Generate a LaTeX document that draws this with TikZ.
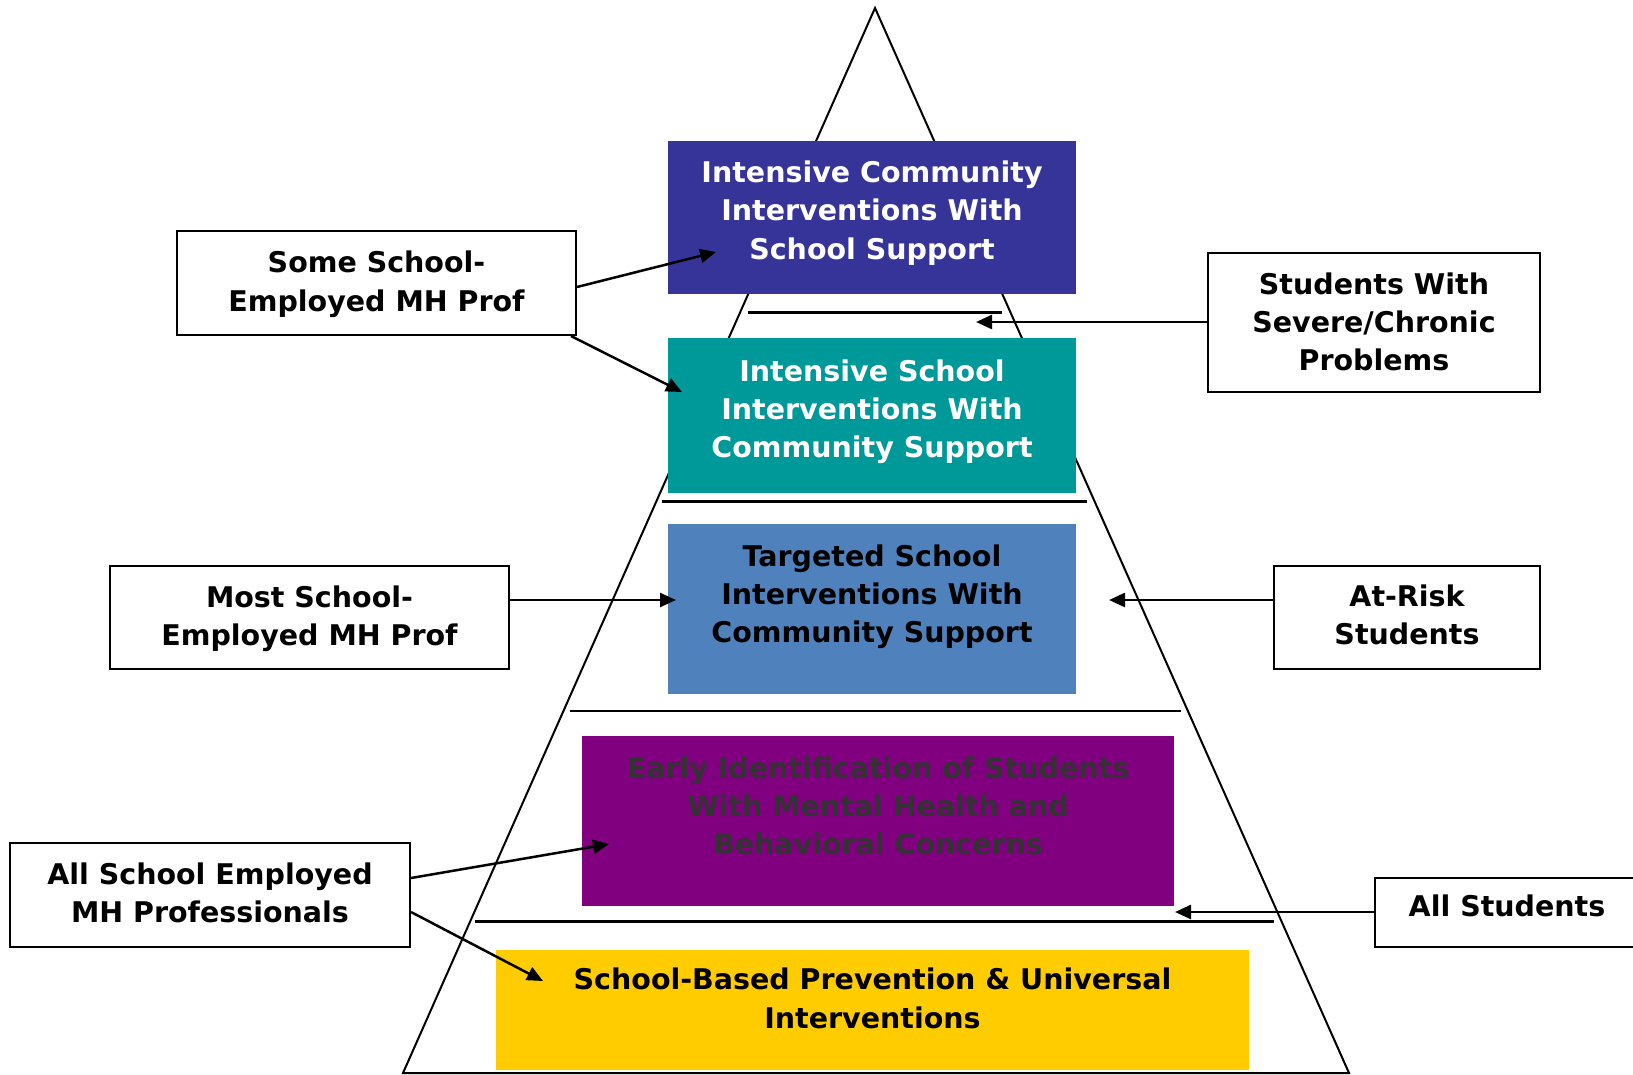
\documentclass[tikz,border=0pt]{standalone}
\usepackage{fontspec}
\setmainfont{DejaVu Sans}
\usetikzlibrary{arrows.meta}
\definecolor{tierA}{RGB}{54,52,153}
\definecolor{tierB}{RGB}{0,153,153}
\definecolor{tierC}{RGB}{79,129,189}
\definecolor{tierD}{RGB}{128,0,128}
\definecolor{tierE}{RGB}{255,204,0}
\definecolor{darktxt}{RGB}{51,51,51}
\tikzset{
  tier/.style={rectangle, inner sep=0pt, draw=none},
  lbox/.style={rectangle, inner sep=0pt, draw=black, line width=2pt, fill=white},
  lbl/.style={align=center, inner sep=0pt, font=\bfseries\fontsize{28.5}{38.3}\selectfont},
  conn/.style={line width=2.5pt, -{Triangle[length=16pt,width=14pt]}},
  sepline/.style={line width=3pt},
  thinsep/.style={line width=2pt},
}
\begin{document}
\begin{tikzpicture}[x=1pt,y=-1pt]
\useasboundingbox (0,0) rectangle (1633,1074);
\fill[white] (0,0) rectangle (1633,1074);
% pyramid outline
\coordinate (apex) at (875,8);
\coordinate (bl) at (403,1073);
\coordinate (br) at (1349,1073);
\draw[line width=2pt, line join=miter] (apex) -- (bl) -- (br) -- cycle;
% separators
\coordinate (s1a) at (748,312);  \coordinate (s1b) at (1002,312);
\coordinate (s2a) at (662,501);  \coordinate (s2b) at (1087,501);
\coordinate (s3a) at (570,711);  \coordinate (s3b) at (1181,711);
\coordinate (s4a) at (475,921);  \coordinate (s4b) at (1274,921);
\draw[sepline] (s1a) -- (s1b);
\draw[sepline] (s2a) -- (s2b);
\draw[thinsep] (s3a) -- (s3b);
\draw[sepline] (s4a) -- (s4b);
% tiers
\node[tier, fill=tierA, minimum width=408pt, minimum height=153pt] (t1) at (872,217.5) {};
\node[tier, fill=tierB, minimum width=408pt, minimum height=155pt] (t2) at (872,415.5) {};
\node[tier, fill=tierC, minimum width=408pt, minimum height=170pt] (t3) at (872,609) {};
\node[tier, fill=tierD, minimum width=592pt, minimum height=170pt] (t4) at (878,821) {};
\node[tier, fill=tierE, minimum width=753pt, minimum height=120pt] (t5) at (872.5,1010) {};
% side boxes
\node[lbox, minimum width=399pt, minimum height=104pt] (some) at (376.5,283) {};
\node[lbox, minimum width=399pt, minimum height=103pt] (most) at (309.5,617.5) {};
\node[lbox, minimum width=400pt, minimum height=104pt] (allp) at (210,895) {};
\node[lbox, minimum width=332pt, minimum height=139pt] (severe) at (1374,322) {};
\node[lbox, minimum width=266pt, minimum height=103pt] (atrisk) at (1407,617.5) {};
\node[lbox, minimum width=264pt, minimum height=69pt] (alls) at (1507,912) {};
% arrow tips
\coordinate (tip1) at (716,252);
\coordinate (tip2) at (682,392);
\coordinate (tip3) at (676,600);
\coordinate (tip4) at (609,844);
\coordinate (tip5) at (543,981);
\coordinate (tip6) at (1109,600);
\coordinate (tip7) at (1175,912);
\coordinate (tip8) at (976,322);
% connectors
\draw[conn] ([yshift=-4pt]some.east) -- (tip1);
\draw[conn] ([xshift=-6pt]some.south east) -- (tip2);
\draw[conn] ([yshift=17.5pt]most.east) -- (tip3);
\draw[conn] ([yshift=17pt]allp.east) -- (tip4);
\draw[conn] ([yshift=-17pt]allp.east) -- (tip5);
\draw[conn] ([yshift=17.5pt]atrisk.west) -- (tip6);
\draw[conn] (alls.west) -- (tip7);
\draw[conn] (severe.west) -- (tip8);
% labels
\node[lbl, text=white] (t1txt) at (872,212.9) {Intensive Community\\Interventions With\\School Support};
\node[lbl, text=white] (t2txt) at (872,411.9) {Intensive School\\Interventions With\\Community Support};
\node[lbl, text=black] (t3txt) at (872,596.9) {Targeted School\\Interventions With\\Community Support};
\node[lbl, text=darktxt] (t4txt) at (878,806) {Early Identification of Students\\With Mental Health and\\Behavioral Concerns};
\node[lbl, text=black] (t5txt) at (872.5,998.3) {School-Based Prevention \& Universal\\Interventions};
\node[lbl] (sometxt) at (376.5,284.1) {Some School-\\Employed MH Prof};
\node[lbl] (mosttxt) at (309.5,618.4) {Most School-\\Employed MH Prof};
\node[lbl] (allptxt) at (210,893.1) {All School Employed\\MH Professionals};
\node[lbl] (severetxt) at (1374,321.75) {Students With\\Severe/Chronic\\Problems};
\node[lbl] (atrisktxt) at (1407,615) {At-Risk\\Students};
\node[lbl] (allstxt) at (1507,906) {All Students};
\end{tikzpicture}
\end{document}
